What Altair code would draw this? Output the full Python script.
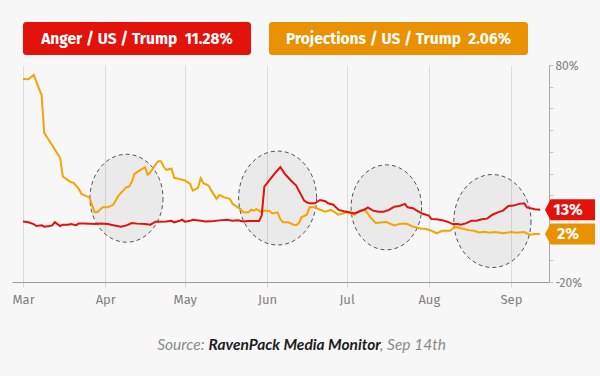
import altair as alt
import pandas as pd

YEAR = "2020-"

# ---- series -------------------------------------------------------------
anger_dates = [
    "03-01", "03-03", "03-05", "03-06", "03-08", "03-09", "03-11", "03-12", "03-13", "03-15",
    "03-16", "03-18", "03-19", "03-21", "03-22", "03-24", "03-26", "03-28", "03-30",
    "04-02", "04-04", "04-07", "04-09", "04-11", "04-13", "04-16", "04-18", "04-20", "04-21",
    "04-24", "04-26", "04-27", "04-29", "04-30",
    "05-01", "05-03", "05-04", "05-07", "05-09", "05-12", "05-14", "05-17", "05-19", "05-21",
    "05-23", "05-25", "05-27", "05-29", "05-30", "05-31",
    "06-02", "06-04", "06-06", "06-08", "06-10", "06-12", "06-13", "06-15", "06-16", "06-17",
    "06-19", "06-21", "06-23", "06-24", "06-26", "06-28", "06-30",
    "07-02", "07-04", "07-06", "07-08", "07-09", "07-11", "07-13", "07-15", "07-17", "07-19",
    "07-21", "07-23", "07-24", "07-26", "07-28", "07-30",
    "08-01", "08-02", "08-04", "08-06", "08-08", "08-10", "08-12", "08-13", "08-15", "08-17",
    "08-19", "08-21", "08-23", "08-25", "08-27", "08-29", "08-31",
    "09-02", "09-04", "09-06", "09-07", "09-10", "09-12",
]
anger_values = [
    7.9, 7.5, 6.7, 5.8, 6.1, 5.5, 5.8, 6.1, 7.6, 5.8,
    6.4, 6.4, 6.7, 6.2, 7.0, 7.0, 6.9, 6.7, 7.0,
    6.7, 6.2, 5.5, 6.1, 7.2, 6.9, 6.7, 6.4, 7.8, 7.8,
    7.9, 8.2, 7.5, 8.2, 8.7,
    7.8, 8.2, 8.7, 8.2, 7.9, 8.1, 8.4, 8.7, 8.2, 8.5,
    7.9, 8.1, 8.1, 8.1, 10.6, 24.0,
    27.1, 30.2, 32.9, 29.4, 26.8, 24.4, 22.1, 17.5, 16.7, 16.3,
    16.3, 17.8, 17.2, 16.3, 15.6, 13.2, 12.6,
    12.1, 11.6, 12.6, 13.5, 14.4, 12.9, 12.4, 12.4, 13.2, 14.7,
    15.0, 16.0, 14.4, 14.0, 12.6, 11.3,
    10.6, 9.0, 8.9, 8.5, 7.8, 6.7, 6.7, 6.4, 7.0, 8.2,
    8.2, 8.9, 9.2, 11.0, 12.1, 12.9, 15.0,
    15.2, 16.0, 16.3, 14.4, 13.5, 13.3,
]

proj_dates = [
    "03-01", "03-03", "03-05", "03-06", "03-08", "03-09", "03-12", "03-15", "03-16", "03-19",
    "03-20", "03-22", "03-23", "03-26", "03-28", "03-29", "03-31",
    "04-02", "04-04", "04-06", "04-09", "04-10", "04-11", "04-12", "04-14", "04-16", "04-17",
    "04-18", "04-20", "04-21", "04-22", "04-23", "04-24", "04-26", "04-27", "04-29",
    "05-01", "05-03", "05-04", "05-06", "05-07", "05-08", "05-10", "05-11", "05-13", "05-14",
    "05-16", "05-18", "05-19", "05-21", "05-22", "05-23", "05-25", "05-26", "05-27", "05-28",
    "05-30", "05-31",
    "06-02", "06-03", "06-05", "06-06", "06-07", "06-09", "06-11", "06-12", "06-13", "06-14",
    "06-16", "06-17", "06-19", "06-21", "06-23", "06-25", "06-28",
    "07-01", "07-04", "07-06", "07-08", "07-10", "07-12", "07-16", "07-19", "07-21", "07-23",
    "07-24", "07-26", "07-29", "07-31",
    "08-02", "08-04", "08-06", "08-09", "08-11", "08-13", "08-14", "08-16", "08-18", "08-20",
    "08-22", "08-24", "08-26", "08-29",
    "09-01", "09-03", "09-06", "09-08", "09-10", "09-12",
]
proj_values = [
    73.5, 73.4, 75.4, 72.3, 66.1, 48.7, 43.0, 37.1, 28.6, 26.0,
    25.8, 22.9, 20.6, 19.0, 12.1, 12.1, 14.4,
    14.4, 15.6, 19.8, 23.7, 24.0, 26.0, 29.8, 31.4, 32.9, 29.4,
    30.6, 34.2, 35.7, 35.7, 33.2, 31.7, 32.2, 28.0, 27.5,
    26.8, 25.2, 22.1, 23.4, 27.8, 25.5, 24.4, 22.1, 18.3, 20.1,
    19.0, 18.3, 16.0, 14.4, 13.6, 12.1, 12.1, 13.3, 12.9, 13.6,
    12.1, 12.9,
    12.6, 11.6, 12.1, 9.0, 7.5, 7.5, 6.4, 6.2, 7.0, 9.8,
    11.0, 14.4, 14.4, 13.3, 12.4, 13.2, 11.0,
    12.1, 11.0, 12.9, 13.2, 9.8, 7.2, 7.6, 6.1, 6.7, 7.0,
    6.7, 5.5, 4.7, 4.4,
    3.6, 2.4, 3.6, 3.6, 5.5, 4.8, 4.5, 3.9, 3.6, 2.8,
    3.1, 2.7, 3.0, 2.5,
    3.0, 2.7, 3.0, 1.8, 2.1, 2.1,
]

series_names = ["Anger / US / Trump", "Projections / US / Trump"]
header_values = ["11.28%", "2.06%"]
end_labels = ["13%", "2%"]
end_values = [13.3, 2.1]

highlight_dates = ["04-09", "06-05", "07-16", "08-25"]
highlight_values = [18.6, 18.7, 14.4, 8.1]
highlight_heights = [88, 94, 85, 93]

source_parts = ["Source:", "RavenPack Media Monitor", ", Sep 14th"]

# ---- styles ----------------------------------------------------------------
RED = "#e3120b"
ORANGE_LINE = "#f6a400"
ORANGE = "#e99100"
BG = "#f7f7f7"
FONT = "Fira Sans, Roboto, sans-serif"

ELLIPSE = ("M 0.83 0 C 0.83 0.5523 0.4584 1 0 1 C -0.4584 1 -0.83 0.5523 -0.83 0 "
           "C -0.83 -0.5523 -0.4584 -1 0 -1 C 0.4584 -1 0.83 -0.5523 0.83 0 Z")
TAG = "M -1 0 L -0.78 -0.42 L 1 -0.42 L 1 0.42 L -0.78 0.42 Z"

# ---- tables ----------------------------------------------------------------
anger = pd.DataFrame({"date": [YEAR + d for d in anger_dates], "value": anger_values})
proj = pd.DataFrame({"date": [YEAR + d for d in proj_dates], "value": proj_values})
ell = pd.DataFrame({
    "date": [YEAR + d for d in highlight_dates],
    "value": highlight_values,
    "size": [h * h for h in highlight_heights],
})
ends = pd.DataFrame({"label": end_labels, "value": end_values, "color": [RED, ORANGE]})
headers = pd.DataFrame({
    "text": [n + "\u00a0\u00a0" + v for n, v in zip(series_names, header_values)],
})
src = pd.DataFrame({"a": [source_parts[0]], "b": [source_parts[1]], "c": [source_parts[2]]})

# ---- scales / axes ---------------------------------------------------------
x_enc = alt.X(
    "date:T",
    scale=alt.Scale(
        type="utc",
        domain=[alt.DateTime(year=2020, month=2, date=25, hours=20, utc=True),
                alt.DateTime(year=2020, month=9, date=15, hours=8, utc=True)],
    ),
    axis=alt.Axis(
        values=[alt.DateTime(year=2020, month=m, date=1, utc=True) for m in range(3, 10)],
        labelExpr="utcFormat(datum.value, '%b')",
        grid=True, gridColor="#dcdcdc", gridWidth=1,
        domainColor="#9a9a9a", tickColor="#d6d6d6", tickSize=5,
        labelColor="#808080", labelFont=FONT, labelFontSize=13, labelPadding=6,
        labelFlush=False, title=None,
    ),
)
y_enc = alt.Y(
    "value:Q",
    scale=alt.Scale(domain=[-20, 80], nice=False, zero=False),
    axis=alt.Axis(
        orient="right", values=list(range(-20, 81, 10)),
        labelExpr="datum.value == 80 || datum.value == -20 ? datum.value + '%' : ''",
        grid=False, domainColor="#a8a8a8", tickColor="#c4c4c4", tickSize=4,
        labelColor="#808080", labelFont=FONT, labelFontSize=12, labelPadding=2,
        labelFlush=False, title=None,
    ),
)

ellipses = alt.Chart(ell).mark_point(
    shape=ELLIPSE, filled=True, fill="#000000", fillOpacity=0.05,
    stroke="#555555", strokeWidth=1, strokeDash=[4, 3], opacity=1,
).encode(x=x_enc, y=y_enc, size=alt.Size("size:Q", scale=None, legend=None))

proj_line = alt.Chart(proj).mark_line(color=ORANGE_LINE, strokeWidth=2).encode(x=x_enc, y=y_enc)
anger_line = alt.Chart(anger).mark_line(color=RED, strokeWidth=2).encode(x=x_enc, y=y_enc)

tags = alt.Chart(ends).mark_point(
    shape=TAG, filled=True, size=2500, opacity=1, strokeWidth=0,
).encode(x=alt.value(558), y=y_enc, color=alt.Color("color:N", scale=None, legend=None))
tag_text = alt.Chart(ends).mark_text(
    color="white", font=FONT, fontSize=16, fontWeight="bold", align="center", baseline="middle",
).encode(x=alt.value(556), y=y_enc, text="label:N")

h1 = alt.Chart(headers.iloc[[0]]).mark_rect(cornerRadius=3, color=RED).encode(
    x=alt.value(11), x2=alt.value(239), y=alt.value(-43), y2=alt.value(-10))
h1t = alt.Chart(headers.iloc[[0]]).mark_text(
    color="white", font=FONT, fontSize=15.5, fontWeight="bold", align="center", baseline="middle",
).encode(x=alt.value(125), y=alt.value(-26), text="text:N")
h2 = alt.Chart(headers.iloc[[1]]).mark_rect(cornerRadius=3, color=ORANGE).encode(
    x=alt.value(257), x2=alt.value(516), y=alt.value(-43), y2=alt.value(-10))
h2t = alt.Chart(headers.iloc[[1]]).mark_text(
    color="white", font=FONT, fontSize=15.5, fontWeight="bold", align="center", baseline="middle",
).encode(x=alt.value(386.5), y=alt.value(-26), text="text:N")

s1 = alt.Chart(src).mark_text(
    font="Lato", fontStyle="italic", fontSize=15.5, color="#8a8a8a", align="right", baseline="middle",
).encode(x=alt.value(192.5), y=alt.value(280), text="a:N")
s2 = alt.Chart(src).mark_text(
    font="Lato", fontStyle="italic", fontWeight="bold", fontSize=15.5, color="#1e1e1e",
    align="left", baseline="middle",
).encode(x=alt.value(196.5), y=alt.value(280), text="b:N")
s3 = alt.Chart(src).mark_text(
    font="Lato", fontStyle="italic", fontSize=15.5, color="#8a8a8a", align="left", baseline="middle",
).encode(x=alt.value(368), y=alt.value(280), text="c:N")

chart = alt.layer(
    ellipses, proj_line, anger_line, tags, tag_text, h1, h1t, h2, h2t, s1, s2, s3
).properties(
    width=537, height=217, background=BG,
    padding={"left": 12, "top": 65, "right": 51, "bottom": 94},
    autosize=alt.AutoSizeParams(type="none"),
).configure_view(stroke=None)

chart.save("out.html", embed_options={"renderer": "svg", "actions": False})
